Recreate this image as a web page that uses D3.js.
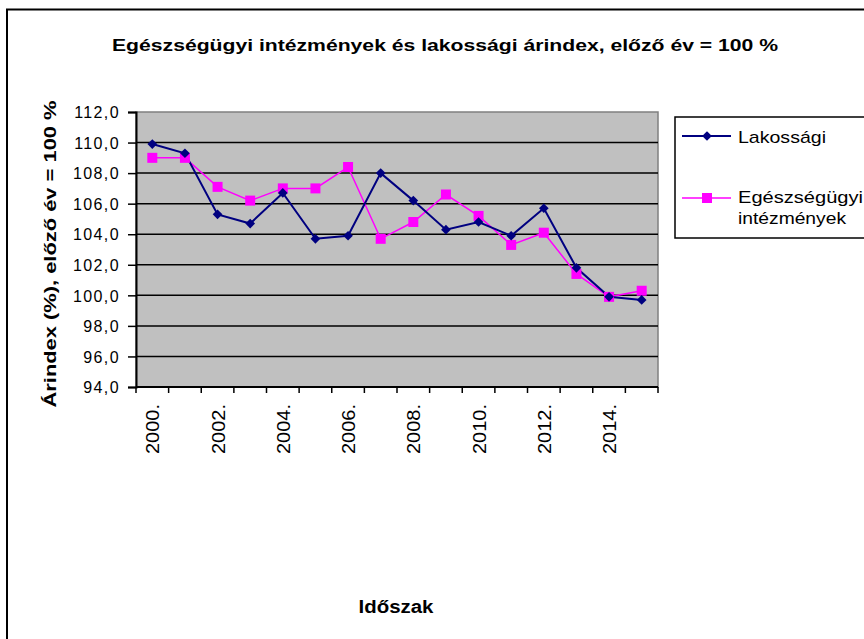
<!DOCTYPE html>
<html><head><meta charset="utf-8">
<script src="https://cdn.jsdelivr.net/npm/d3@7"></script>
<style>body{margin:0;background:#fff}svg{display:block}text{font-family:"Liberation Sans",Arial,sans-serif}</style>
</head><body><svg id="c" width="864" height="639"></svg>
<script>
const years = ["2000.","2001.","2002.","2003.","2004.","2005.","2006.","2007.","2008.","2009.","2010.","2011.","2012.","2013.","2014.","2015."];
const lakossagi = [109.9,109.3,105.3,104.7,106.7,103.7,103.9,108.0,106.2,104.3,104.8,103.9,105.7,101.8,99.9,99.7];
const egeszsegugyi = [109.0,109.0,107.1,106.2,107.0,107.0,108.4,103.7,104.8,106.6,105.2,103.3,104.1,101.4,99.9,100.3];
const yTicks = [94,96,98,100,102,104,106,108,110,112];
const seriesNames = ["Lakossági","Egészségügyi intézmények"];
const title = "Egészségügyi intézmények és lakossági árindex, előző év = 100 %";
const yTitle = "Árindex (%), előző év = 100 %";
const xTitle = "Időszak";

const svg = d3.select("#c");
const L=136,R=658,T=112,B=387;
svg.append("rect").attr("x",7).attr("y",9.5).attr("width",900).attr("height",700).attr("fill","none").attr("stroke","#000").attr("stroke-width",2);

const x = d3.scaleBand().domain(years).range([L,R]).padding(0);
const y = d3.scaleLinear().domain([94,112]).range([B,T]);

svg.append("rect").attr("x",L).attr("y",T).attr("width",R-L).attr("height",B-T).attr("fill","#C0C0C0").attr("stroke","#808080").attr("stroke-width",1.5);

// gridlines
svg.append("g").selectAll("line").data(yTicks.filter(d=>d>94&&d<112)).join("line")
 .attr("x1",L).attr("x2",R).attr("y1",d=>y(d)).attr("y2",d=>y(d)).attr("stroke","#000").attr("stroke-width",1.5);

// y axis
const ya = svg.append("g").attr("transform",`translate(${L},0)`)
 .call(d3.axisLeft(y).tickValues(yTicks).tickSize(8).tickFormat(d=>d3.format(".1f")(d).replace(".",",")));
ya.select(".domain").attr("stroke","#000").attr("stroke-width",2);
ya.selectAll(".tick line").attr("stroke","#000").attr("stroke-width",1.5);
ya.selectAll("text").attr("font-size",16).attr("fill","#000").attr("x",-16).attr("dy","0.36em")
 .attr("letter-spacing","1.4px").attr("font-family","Liberation Sans, Arial, sans-serif");

// x axis
const xa = svg.append("g").attr("transform",`translate(0,${B})`);
xa.append("line").attr("x1",L).attr("x2",R).attr("stroke","#000").attr("stroke-width",2);
const edges = years.map(d=>x(d)).concat([R]);
xa.selectAll("line.t").data(edges).join("line").attr("class","t")
 .attr("x1",d=>d).attr("x2",d=>d).attr("y1",0).attr("y2",6).attr("stroke","#000").attr("stroke-width",1.5);
xa.selectAll("text").data(years.filter((d,i)=>i%2===0)).join("text")
 .attr("transform",d=>`translate(${x(d)+x.bandwidth()/2+7},17) rotate(-90)`)
 .attr("text-anchor","end").attr("font-size",18).attr("fill","#000")
 .attr("textLength",50).attr("lengthAdjust","spacingAndGlyphs").text(d=>d);

// lines
const cx = d=>x(d)+x.bandwidth()/2;
const line = d3.line().x((d,i)=>cx(years[i])).y(d=>y(d));
svg.append("path").datum(egeszsegugyi).attr("d",line).attr("fill","none").attr("stroke","#FF00FF").attr("stroke-width",1.5);
svg.append("path").datum(lakossagi).attr("d",line).attr("fill","none").attr("stroke","#000080").attr("stroke-width",2);
svg.append("g").selectAll("rect").data(egeszsegugyi).join("rect")
 .attr("x",(d,i)=>cx(years[i])-5).attr("y",d=>y(d)-5).attr("width",10).attr("height",10).attr("fill","#FF00FF");
const diamond = d3.symbol().type(d3.symbolDiamond2).size(60);
svg.append("g").selectAll("path").data(lakossagi).join("path")
 .attr("d",diamond).attr("transform",(d,i)=>`translate(${cx(years[i])},${y(d)})`).attr("fill","#000080");

// titles
svg.append("text").attr("x",445).attr("y",51).attr("text-anchor","middle").attr("font-size",17).attr("font-weight","bold")
 .attr("textLength",666).attr("lengthAdjust","spacingAndGlyphs").text(title);
svg.append("text").attr("transform",`translate(56,254) rotate(-90)`).attr("text-anchor","middle").attr("font-size",17).attr("font-weight","bold")
 .attr("textLength",307).attr("lengthAdjust","spacingAndGlyphs").text(yTitle);
svg.append("text").attr("x",396).attr("y",613).attr("text-anchor","middle").attr("font-size",18).attr("font-weight","bold")
 .attr("textLength",75).attr("lengthAdjust","spacingAndGlyphs").text(xTitle);

// legend
const lg = svg.append("g");
lg.append("rect").attr("x",675).attr("y",117).attr("width",200).attr("height",121).attr("fill","#fff").attr("stroke","#000").attr("stroke-width",1.5);
lg.append("line").attr("x1",682).attr("x2",731).attr("y1",136).attr("y2",136).attr("stroke","#000080").attr("stroke-width",2);
lg.append("path").attr("d",diamond).attr("transform","translate(707,136)").attr("fill","#000080");
lg.append("text").attr("x",738).attr("y",143).attr("font-size",17).attr("textLength",88).attr("lengthAdjust","spacingAndGlyphs").text(seriesNames[0]);
lg.append("line").attr("x1",682).attr("x2",731).attr("y1",198).attr("y2",198).attr("stroke","#FF00FF").attr("stroke-width",1.5);
lg.append("rect").attr("x",702).attr("y",193).attr("width",10).attr("height",10).attr("fill","#FF00FF");
const words = seriesNames[1].split(" ");
lg.append("text").attr("x",738).attr("y",203).attr("font-size",17).attr("textLength",125).attr("lengthAdjust","spacingAndGlyphs").text(words[0]);
lg.append("text").attr("x",738).attr("y",224).attr("font-size",17).attr("textLength",108).attr("lengthAdjust","spacingAndGlyphs").text(words[1]);
</script></body></html>
